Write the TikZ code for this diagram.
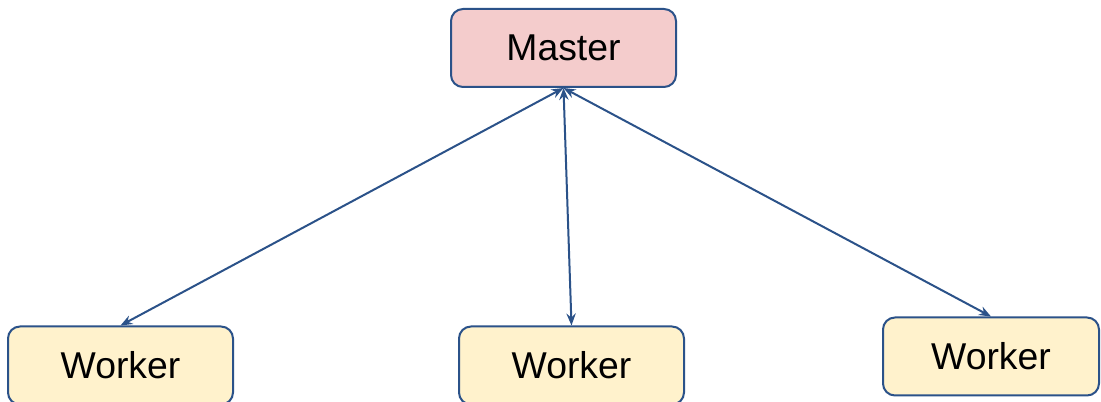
\documentclass[tikz,border=0pt]{standalone}
\usepackage{fontspec}
\setmainfont{Liberation Sans}
\usepackage{tikz}
\usetikzlibrary{arrows.meta}
\definecolor{linkblue}{HTML}{2B5289}
\definecolor{masterpink}{HTML}{F4CCCC}
\definecolor{workeryellow}{HTML}{FFF2CC}

\begin{document}
\begin{tikzpicture}[x=0.75pt,y=-0.75pt,
    box/.style={draw=linkblue,line width=1.5pt,rounded corners=9pt,minimum width=168.75pt,minimum height=58.5pt,inner sep=0pt,font=\fontsize{28}{32}\selectfont},
    link/.style={draw=linkblue,line width=1.5pt,{Stealth[length=9pt,width=7pt,inset=3pt]}-{Stealth[length=9pt,width=7pt,inset=3pt]}}]
                \useasboundingbox (0,0) rectangle (1101,402);
                \clip (0,0) rectangle (1101,402);

                \node[box,fill=masterpink] (master) at (563.5,48) {Master};
                \node[box,fill=workeryellow] (worker1) at (120.5,365.5) {Worker};
                \node[box,fill=workeryellow] (worker2) at (571.5,365.5) {Worker};
                \node[box,fill=workeryellow,minimum width=162pt] (worker3) at (991,356.5) {Worker};

                \draw[link] (master.south) -- (worker1.north);
                \draw[link] (master.south) -- (worker2.north);
                \draw[link] (master.south) -- (worker3.north);
            \end{tikzpicture}
\end{document}
